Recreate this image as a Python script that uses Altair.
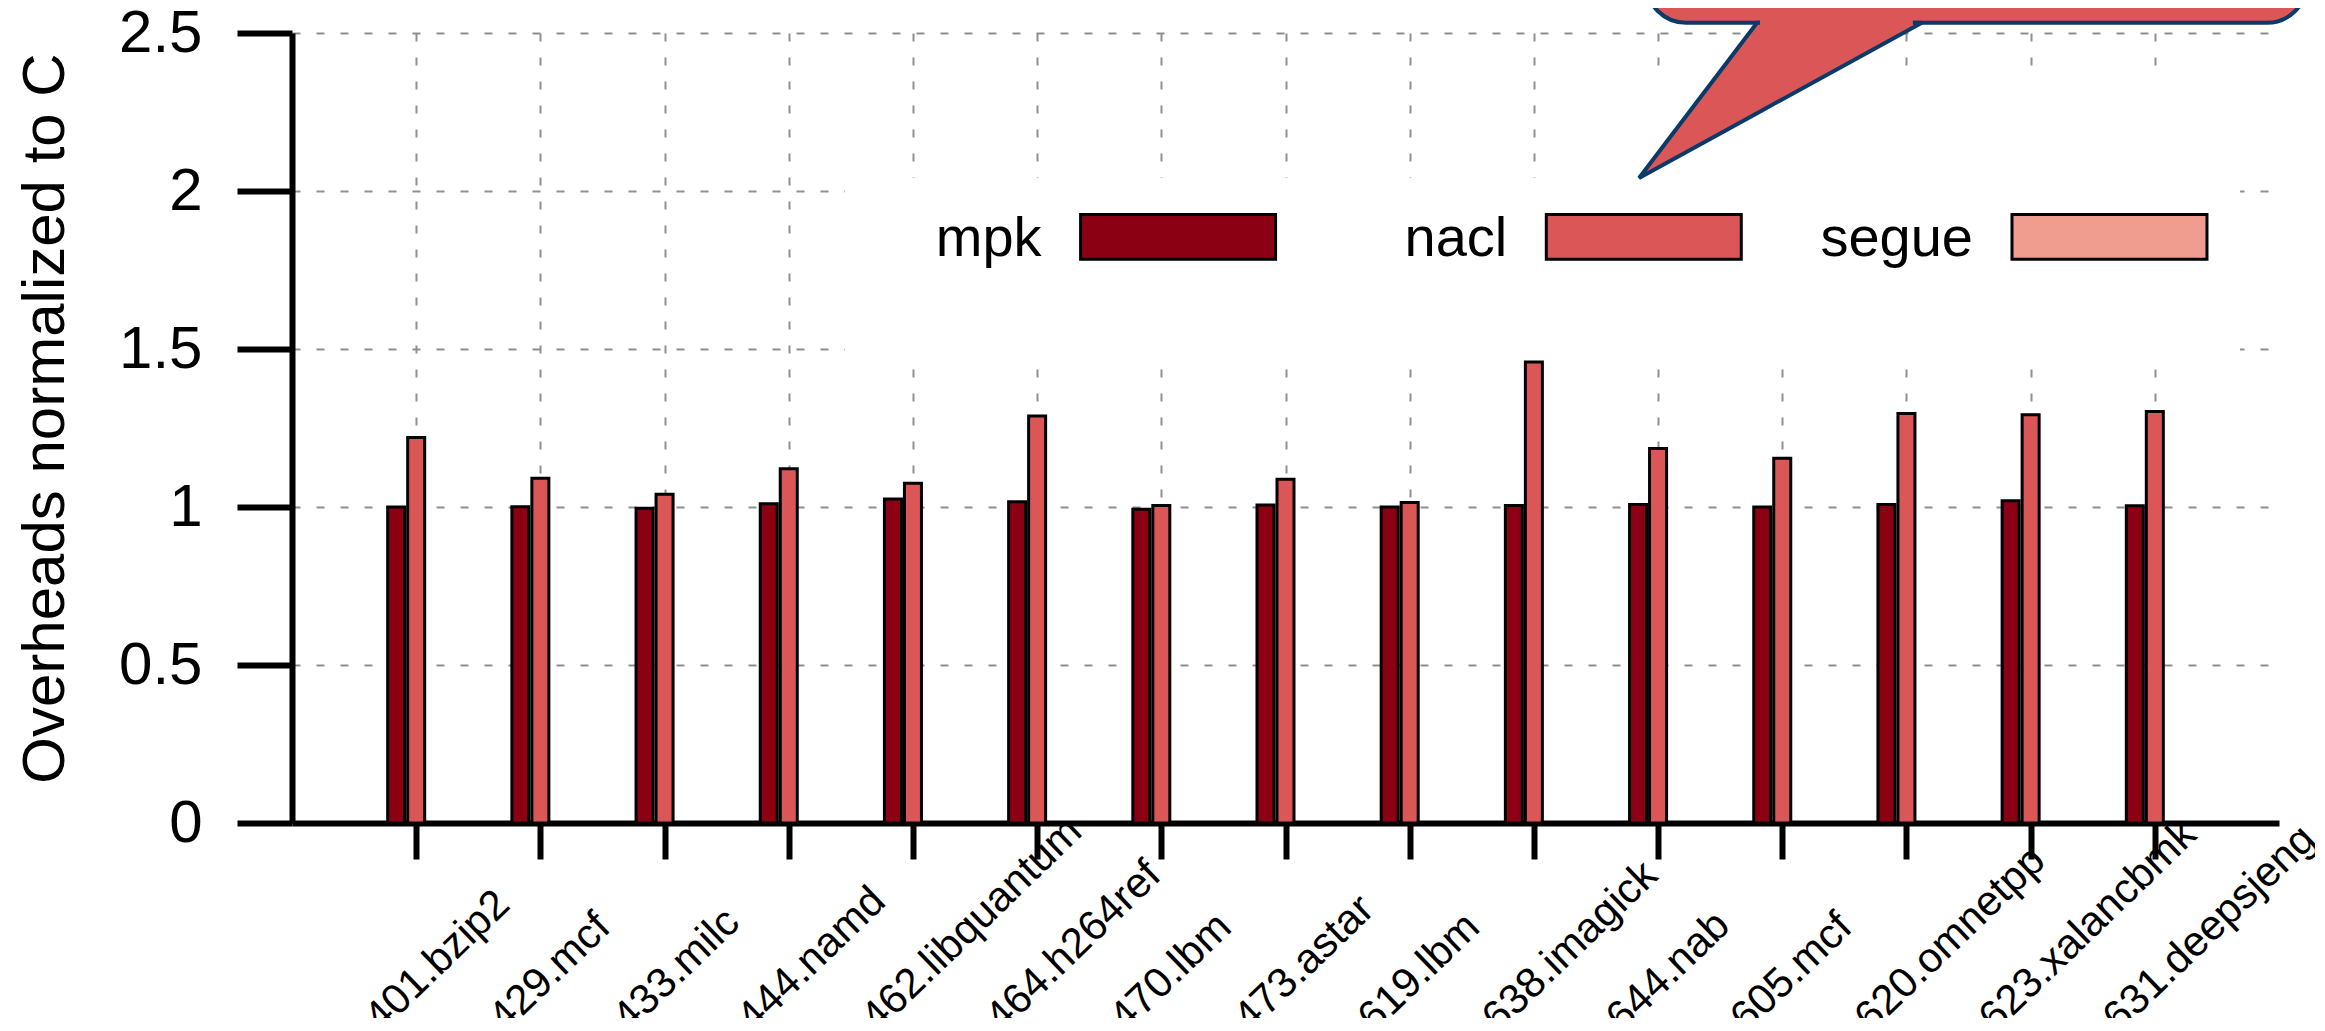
import json
import altair as alt
import pandas as pd

# ---------------- data ----------------
benchmarks = ["401.bzip2", "429.mcf", "433.milc", "444.namd", "462.libquantum",
              "464.h264ref", "470.lbm", "473.astar", "619.lbm", "638.imagick",
              "644.nab", "605.mcf", "620.omnetpp", "623.xalancbmk", "631.deepsjeng"]
mpk = [1.000, 1.001, 0.996, 1.010, 1.025, 1.017, 0.993, 1.006, 1.000, 1.005,
       1.008, 1.000, 1.008, 1.020, 1.004]
nacl = [1.220, 1.091, 1.040, 1.121, 1.075, 1.288, 1.005, 1.088, 1.014, 1.459,
        1.185, 1.154, 1.296, 1.292, 1.302]
series = ["mpk", "nacl", "segue"]
colors = ["#8b0012", "#db5757", "#f09c8e"]
y_ticks = [0, 0.5, 1, 1.5, 2, 2.5]

# ---------------- style ----------------
FONT = "Liberation Sans"
GRID = "#8f8f8f"
NAVY = "#0a3a6a"
BAR_OFF = {"mpk": -0.161, "nacl": 0.0, "segue": 0.161}
HALF_W = 0.0685

rows = []
for i, b in enumerate(benchmarks):
    rows.append({"name": b, "idx": i, "series": "mpk", "value": mpk[i], "off": BAR_OFF["mpk"]})
    rows.append({"name": b, "idx": i, "series": "nacl", "value": nacl[i], "off": BAR_OFF["nacl"]})
bars_df = pd.DataFrame(rows)

xscale = alt.Scale(domain=[-1, 15], nice=False, zero=False)
yscale = alt.Scale(domain=[0, 2.5], nice=False, zero=False)

x_axis = alt.Axis(
    values=list(range(len(benchmarks))),
    labelExpr=f"{json.dumps(benchmarks)}[datum.value]",
    grid=True, gridDash=[8, 16], gridColor=GRID, gridWidth=2,
    domainColor="black", domainWidth=6,
    tickColor="black", tickWidth=6, tickSize=36,
    labelAngle=-44, labelAlign="left", labelBaseline="alphabetic",
    labelOffset=-36, labelPadding=174, labelLimit=0,
    labelFont=FONT, labelFontSize=42, labelColor="black",
    labelOverlap=False, labelBound=False, labelFlush=False,
    title=None,
)
y_axis = alt.Axis(
    values=y_ticks, format="~g",
    grid=True, gridDash=[8, 16], gridColor=GRID, gridWidth=2,
    domainColor="black", domainWidth=6,
    tickColor="black", tickWidth=6, tickSize=55,
    labelFont=FONT, labelFontSize=60, labelColor="black", labelPadding=35,
    title="Overheads normalized to C", titleFont=FONT, titleFontSize=60,
    titleFontWeight="normal", titleColor="black",
    titleX=-229, titleY=385, titleBaseline="alphabetic", titleAlign="center",
)

bars = alt.Chart(bars_df).transform_calculate(
    x0=f"datum.idx + datum.off - {HALF_W}",
    x1=f"datum.idx + datum.off + {HALF_W}",
).mark_rect(stroke="black", strokeWidth=3).encode(
    x=alt.X("x0:Q", scale=xscale, axis=x_axis),
    x2="x1:Q",
    y=alt.Y("value:Q", scale=yscale, axis=y_axis),
    y2=alt.datum(0),
    color=alt.Color("series:N", scale=alt.Scale(domain=series, range=colors), legend=None),
)

# opaque key box (hides grid behind the legend)
key_boxes = pd.DataFrame({
    "x0": [3.453, 9.85], "x1": [14.686, 14.686],
    "y0": [1.47, 2.041], "y1": [2.041, 2.383],
})
boxes = alt.Chart(key_boxes).mark_rect(fill="white", strokeWidth=0).encode(
    x=alt.X("x0:Q", scale=xscale, axis=None), x2="x1:Q",
    y=alt.Y("y0:Q", scale=yscale, axis=None), y2="y1:Q",
)

# legend entries
leg_df = pd.DataFrame({"series": series, "i": [0, 1, 2]})
LEG_X0, LEG_STEP, LEG_W = 5.35, 3.75, 1.57
leg_base = alt.Chart(leg_df).transform_calculate(
    bx0=f"{LEG_X0} + datum.i * {LEG_STEP}",
    bx1=f"{LEG_X0} + datum.i * {LEG_STEP} + {LEG_W}",
)
leg_sw = leg_base.mark_rect(stroke="black", strokeWidth=3).encode(
    x=alt.X("bx0:Q", scale=xscale, axis=None), x2="bx1:Q",
    y=alt.Y(datum=1.926, scale=yscale, axis=None), y2=alt.datum(1.784),
    color=alt.Color("series:N", scale=alt.Scale(domain=series, range=colors), legend=None),
)
leg_tx = leg_base.mark_text(align="right", baseline="alphabetic", dx=-39,
                            font=FONT, fontSize=56, color="black").encode(
    x=alt.X("bx0:Q", scale=xscale, axis=None),
    y=alt.Y(datum=1.794, scale=yscale, axis=None),
    text="series:N",
)

# callout bubble
body_df = pd.DataFrame({"x0": [9.903], "x1": [15.225], "y0": [2.5326], "y1": [2.80]})
body = alt.Chart(body_df).mark_rect(cornerRadius=40, fill="#db5757", stroke=NAVY,
                                     strokeWidth=4).encode(
    x=alt.X("x0:Q", scale=xscale, axis=None), x2="x1:Q",
    y=alt.Y("y0:Q", scale=yscale, axis=None), y2="y1:Q",
)
tail_df = pd.DataFrame({"x": [9.847, 10.797, 12.124],
                        "ytop": [2.0411, 2.5326, 2.5326],
                        "ybot": [2.0411, 2.2462, 2.5326]})
tail = alt.Chart(tail_df).mark_area(fill="#db5757", stroke=NAVY, strokeWidth=4,
                                    strokeJoin="miter", opacity=1).encode(
    x=alt.X("x:Q", scale=xscale, axis=None),
    y=alt.Y("ytop:Q", scale=yscale, axis=None), y2="ybot:Q",
)
patch_df = pd.DataFrame({"x0": [10.821], "x1": [12.052], "y0": [2.522], "y1": [2.560]})
patch = alt.Chart(patch_df).mark_rect(fill="#db5757", strokeWidth=0).encode(
    x=alt.X("x0:Q", scale=xscale, axis=None), x2="x1:Q",
    y=alt.Y("y0:Q", scale=yscale, axis=None), y2="y1:Q",
)

chart = alt.layer(bars, boxes, leg_sw, leg_tx, body, tail, patch).resolve_axis(
    x="independent", y="independent"
).properties(
    width=1987, height=790,
    padding={"left": 284, "top": 25, "right": 36, "bottom": 195},
    autosize=alt.AutoSizeParams(type="none"),
    background="white",
).configure_view(stroke=None)

chart.save("out.html", embed_options={"renderer": "svg", "actions": False})
